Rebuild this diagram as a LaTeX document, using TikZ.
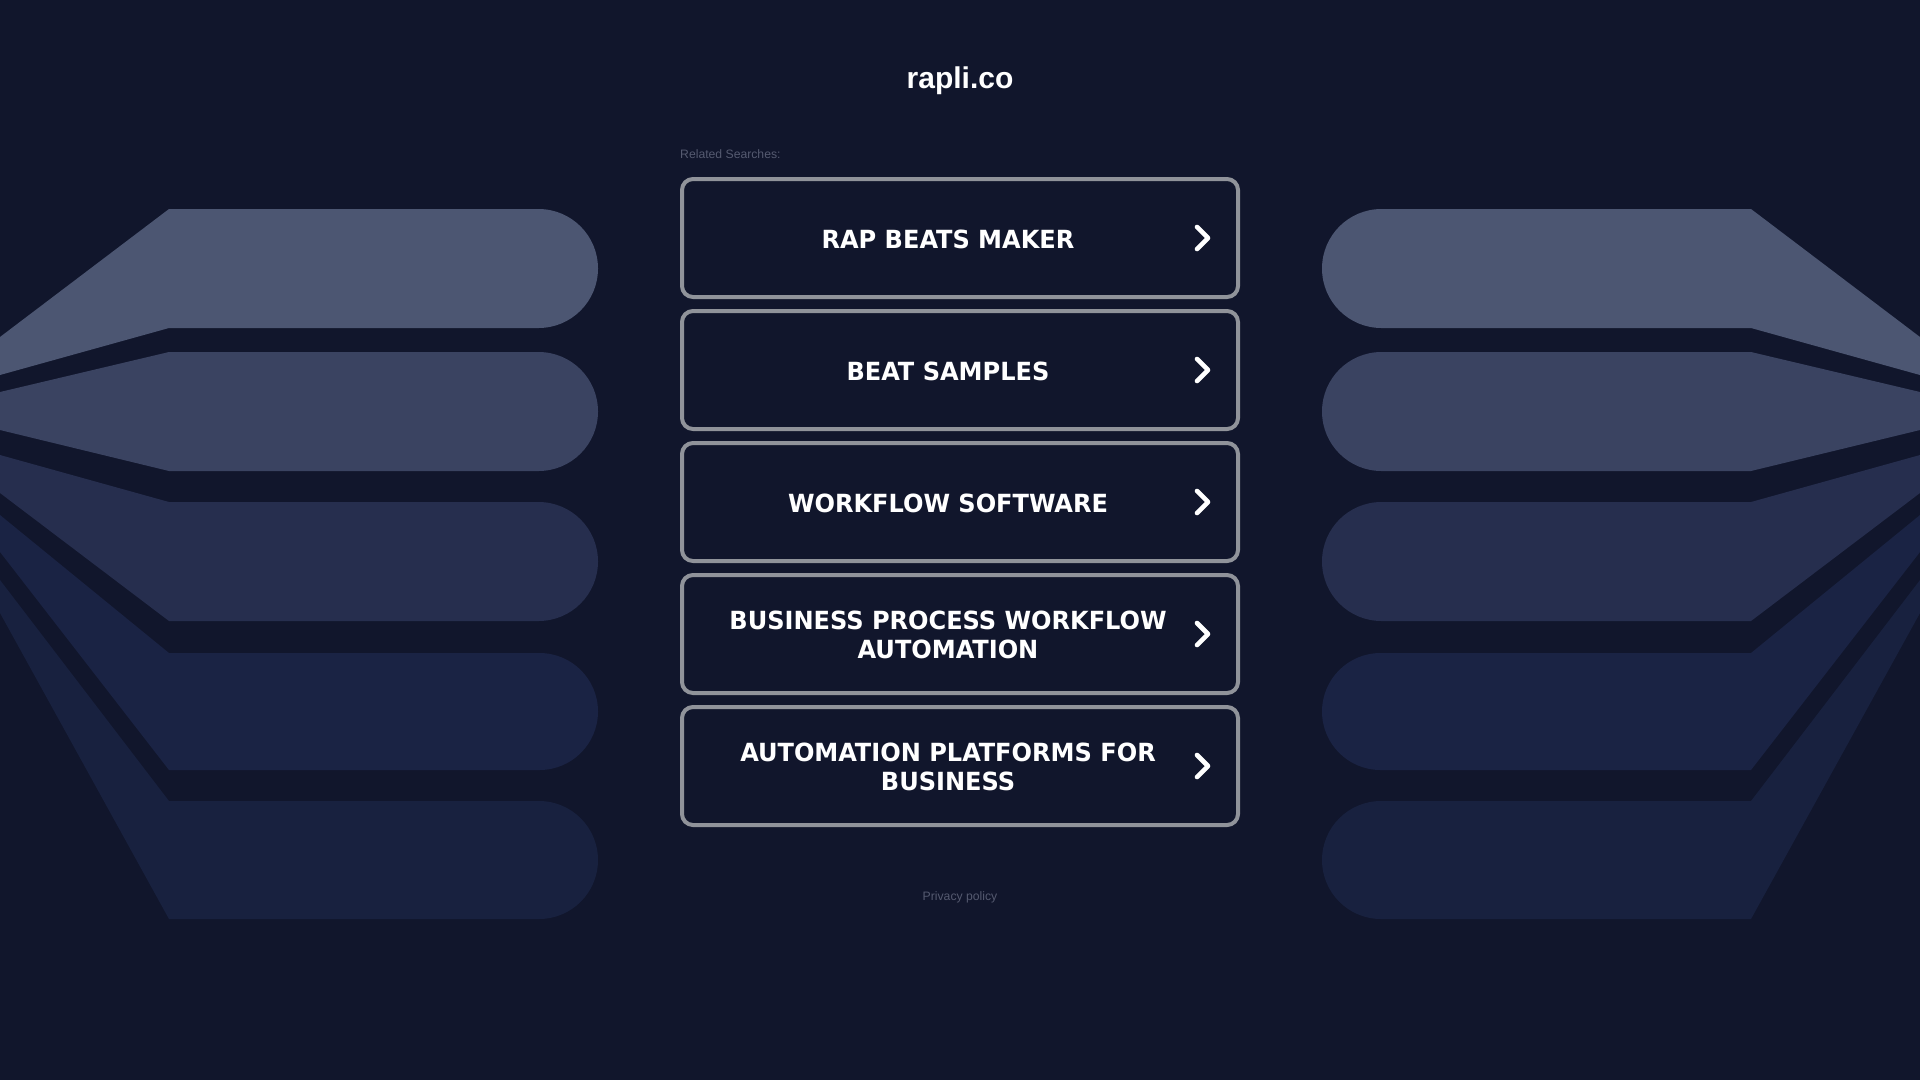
\documentclass[tikz,border=0pt]{standalone}
\usepackage{fontspec}
\setmainfont{Liberation Sans}
\newfontfamily\btnfont[FakeStretch=1.07]{DejaVu Sans Condensed}
\definecolor{bgc}{HTML}{11162C}
\definecolor{wa}{HTML}{4C5672}
\definecolor{wb}{HTML}{3A4361}
\definecolor{wc}{HTML}{262E4E}
\definecolor{wd}{HTML}{1A2344}
\definecolor{we}{HTML}{18213F}
\definecolor{edgec}{HTML}{90939A}
\definecolor{faint}{HTML}{555A70}
\tikzset{
  btnbox/.style={draw=edgec,line width=4pt,fill=bgc,rounded corners=11pt,minimum width=556pt,minimum height=118pt,inner sep=0pt},
  btntext/.style={text=white,inner sep=0pt,align=center,font=\btnfont\bfseries\fontsize{25}{29}\selectfont},
  chev/.style={draw=white,line width=4.6pt,line cap=round,line join=round},
  small/.style={text=faint,inner sep=0pt,font=\fontsize{12.2}{14}\selectfont}
}
\newcommand\wingshape[5]{% colour, left top y, top y, left bottom y, bottom y
  \pgfmathsetmacro\wr{(#5-#3)/2}
  \pgfmathsetmacro\wx{598-\wr}
  \fill[#1] (0,#2) -- (169,#3) -- (\wx,#3) arc[start angle=90,end angle=-90,radius=\wr pt] -- (169,#5) -- (0,#4) -- cycle;
}
\newcommand\wingset{%
  \wingshape{wa}{337}{209}{375}{328}
  \wingshape{wb}{392}{352}{430}{471}
  \wingshape{wc}{455}{502}{493}{621}
  \wingshape{wd}{515}{653}{552}{770}
  \wingshape{we}{580}{801}{613}{919}
}
\begin{document}
\begin{tikzpicture}[x=1pt,y=-1pt]
\useasboundingbox (0,0) rectangle (1920,1080);
\fill[bgc] (0,0) rectangle (1920,1080);
\wingset
\begin{scope}[xshift=1920pt,xscale=-1]
\wingset
\end{scope}
\node[text=white,inner sep=0pt,font=\bfseries\fontsize{30}{34}\selectfont] (title) at (960,80.5) {rapli.co};
\node[small,anchor=west] (related) at (680,154) {Related Searches:};
\node[btnbox] (b1) at (960,238) {};
\node[btnbox] (b2) at (960,370) {};
\node[btnbox] (b3) at (960,502) {};
\node[btnbox] (b4) at (960,634) {};
\node[btnbox] (b5) at (960,766) {};
\node[btntext] (t1) at (948,239) {RAP BEATS MAKER};
\node[btntext] (t2) at (948,371) {BEAT SAMPLES};
\node[btntext] (t3) at (948,503) {WORKFLOW SOFTWARE};
\node[btntext] (t4) at (948,634.5) {BUSINESS PROCESS WORKFLOW\\AUTOMATION};
\node[btntext] (t5) at (948,766.5) {AUTOMATION PLATFORMS FOR\\BUSINESS};
\foreach \b in {b1,b2,b3,b4,b5}{
  \draw[chev] ([xshift=237pt,yshift=11pt]\b.center) -- ([xshift=248pt]\b.center) -- ([xshift=237pt,yshift=-11pt]\b.center);
}
\node[small] (privacy) at (960,897) {Privacy policy};
\end{tikzpicture}
\end{document}
